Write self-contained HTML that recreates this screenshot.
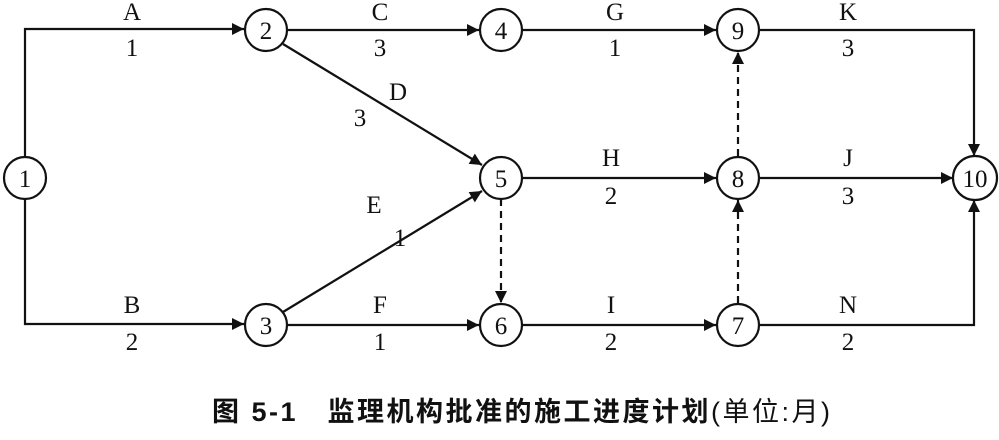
<!DOCTYPE html>
<html><head><meta charset="utf-8"><style>
body{margin:0;background:#fff;width:999px;height:440px;overflow:hidden}
svg{display:block}
text{font-family:"Liberation Serif",serif;font-size:25px;fill:#111}
</style></head><body>
<svg width="999" height="440" viewBox="0 0 999 440">
<defs>
<marker id="a" viewBox="0 0 10 10" refX="10" refY="5" markerWidth="14" markerHeight="12" markerUnits="userSpaceOnUse" orient="auto"><path d="M0,0L10,5L0,10z" fill="#111"/></marker>
</defs>
<g stroke="#111" stroke-width="2.2" fill="none">
<path d="M25,156V29H244" marker-end="url(#a)"/>
<path d="M25,200V324H244" marker-end="url(#a)"/>
<path d="M287,30H479" marker-end="url(#a)"/>
<path d="M522,30H716" marker-end="url(#a)"/>
<path d="M759,30H974V156" marker-end="url(#a)"/>
<path d="M283,44L482,165" marker-end="url(#a)"/>
<path d="M283,312L482,191" marker-end="url(#a)"/>
<path d="M287,325H479" marker-end="url(#a)"/>
<path d="M522,178H716" marker-end="url(#a)"/>
<path d="M759,178H953" marker-end="url(#a)"/>
<path d="M522,325H716" marker-end="url(#a)"/>
<path d="M759,325H974V200" marker-end="url(#a)"/>
<path d="M501,199V303" stroke-dasharray="7,5" marker-end="url(#a)"/>
<path d="M738,303V200" stroke-dasharray="7,5" marker-end="url(#a)"/>
<path d="M738,156V52" stroke-dasharray="7,5" marker-end="url(#a)"/>
</g>
<g stroke="#111" stroke-width="2.2" fill="#fff">
<circle cx="25" cy="178" r="21"/><circle cx="266" cy="30" r="21"/><circle cx="266" cy="325" r="21"/>
<circle cx="501" cy="30" r="21"/><circle cx="501" cy="178" r="21"/><circle cx="501" cy="325" r="21"/>
<circle cx="738" cy="325" r="21"/><circle cx="738" cy="178" r="21"/><circle cx="738" cy="30" r="21"/>
<circle cx="975" cy="178" r="22"/>
</g>
<g text-anchor="middle">
<text x="25" y="187">1</text><text x="266" y="39">2</text><text x="266" y="334">3</text>
<text x="501" y="39">4</text><text x="501" y="187">5</text><text x="501" y="334">6</text>
<text x="738" y="334">7</text><text x="738" y="187">8</text><text x="738" y="39">9</text>
<text x="975" y="187">10</text>
<text x="132" y="20">A</text><text x="132" y="56">1</text>
<text x="380" y="20">C</text><text x="380" y="56">3</text>
<text x="615" y="20">G</text><text x="615" y="56">1</text>
<text x="848" y="20">K</text><text x="848" y="56">3</text>
<text x="398" y="100">D</text><text x="360" y="126">3</text>
<text x="611" y="166">H</text><text x="611" y="204">2</text>
<text x="848" y="166">J</text><text x="848" y="204">3</text>
<text x="374" y="213">E</text><text x="400" y="246">1</text>
<text x="132" y="313">B</text><text x="132" y="350">2</text>
<text x="380" y="313">F</text><text x="380" y="350">1</text>
<text x="611" y="313">I</text><text x="611" y="350">2</text>
<text x="848" y="313">N</text><text x="848" y="350">2</text>
</g>
<text x="212" y="421" style="font-family:'Liberation Sans','Noto Sans CJK SC',sans-serif;font-weight:bold;font-size:27px;letter-spacing:2.5px">图 5-1　监理机构批准的施工进度计划<tspan font-weight="normal">(单位:月)</tspan></text>
</svg>
</body></html>
